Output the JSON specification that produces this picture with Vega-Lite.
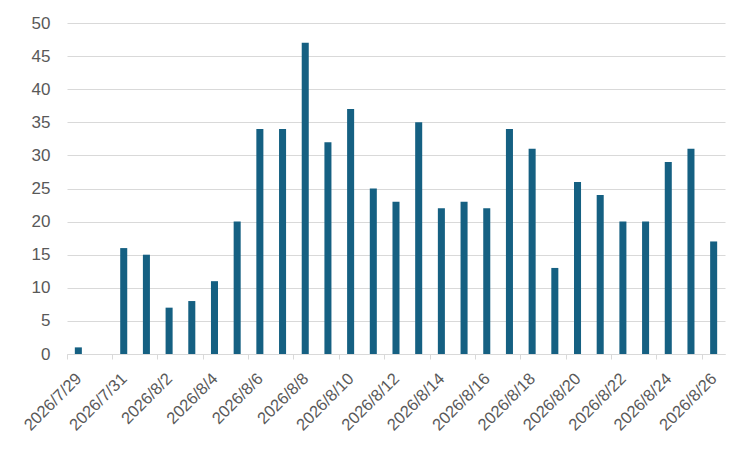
{
  "$schema": "https://vega.github.io/schema/vega-lite/v6.json",
  "width": 658,
  "height": 331,
  "autosize": "none",
  "padding": {"left": 67, "top": 23, "right": 27, "bottom": 98},
  "background": "white",
  "data": {
    "values": [
      {"date": "2026/7/29", "count": 1},
      {"date": "2026/7/30", "count": 0},
      {"date": "2026/7/31", "count": 16},
      {"date": "2026/8/1", "count": 15},
      {"date": "2026/8/2", "count": 7},
      {"date": "2026/8/3", "count": 8},
      {"date": "2026/8/4", "count": 11},
      {"date": "2026/8/5", "count": 20},
      {"date": "2026/8/6", "count": 34},
      {"date": "2026/8/7", "count": 34},
      {"date": "2026/8/8", "count": 47},
      {"date": "2026/8/9", "count": 32},
      {"date": "2026/8/10", "count": 37},
      {"date": "2026/8/11", "count": 25},
      {"date": "2026/8/12", "count": 23},
      {"date": "2026/8/13", "count": 35},
      {"date": "2026/8/14", "count": 22},
      {"date": "2026/8/15", "count": 23},
      {"date": "2026/8/16", "count": 22},
      {"date": "2026/8/17", "count": 34},
      {"date": "2026/8/18", "count": 31},
      {"date": "2026/8/19", "count": 13},
      {"date": "2026/8/20", "count": 26},
      {"date": "2026/8/21", "count": 24},
      {"date": "2026/8/22", "count": 20},
      {"date": "2026/8/23", "count": 20},
      {"date": "2026/8/24", "count": 29},
      {"date": "2026/8/25", "count": 31},
      {"date": "2026/8/26", "count": 17}
    ]
  },
  "mark": {"type": "bar", "color": "#156082", "width": {"band": 0.31}},
  "encoding": {
    "x": {
      "field": "date",
      "type": "nominal",
      "sort": null,
      "scale": {"paddingInner": 0, "paddingOuter": 0},
      "axis": {
        "title": null,
        "values": ["2026/7/29", "2026/7/31", "2026/8/2", "2026/8/4", "2026/8/6", "2026/8/8", "2026/8/10", "2026/8/12", "2026/8/14", "2026/8/16", "2026/8/18", "2026/8/20", "2026/8/22", "2026/8/24", "2026/8/26"],
        "bandPosition": 0,
        "labelOffset": -5,
        "labelAngle": -45,
        "labelFontSize": 16.5,
        "labelColor": "#595959",
        "labelFont": "Liberation Sans",
        "labelPadding": 11,
        "domainColor": "#d9d9d9",
        "domainWidth": 1,
        "tickColor": "#d9d9d9",
        "tickSize": 5,
        "grid": false
      }
    },
    "y": {
      "field": "count",
      "type": "quantitative",
      "scale": {"domain": [0, 50], "nice": false},
      "axis": {
        "title": null,
        "values": [0, 5, 10, 15, 20, 25, 30, 35, 40, 45, 50],
        "labelFontSize": 17,
        "labelColor": "#595959",
        "labelFont": "Liberation Sans",
        "labelPadding": 17,
        "ticks": false,
        "domain": false,
        "grid": true,
        "gridColor": "#d9d9d9",
        "gridWidth": 1
      }
    }
  },
  "config": {
    "view": {"stroke": null}
  }
}
